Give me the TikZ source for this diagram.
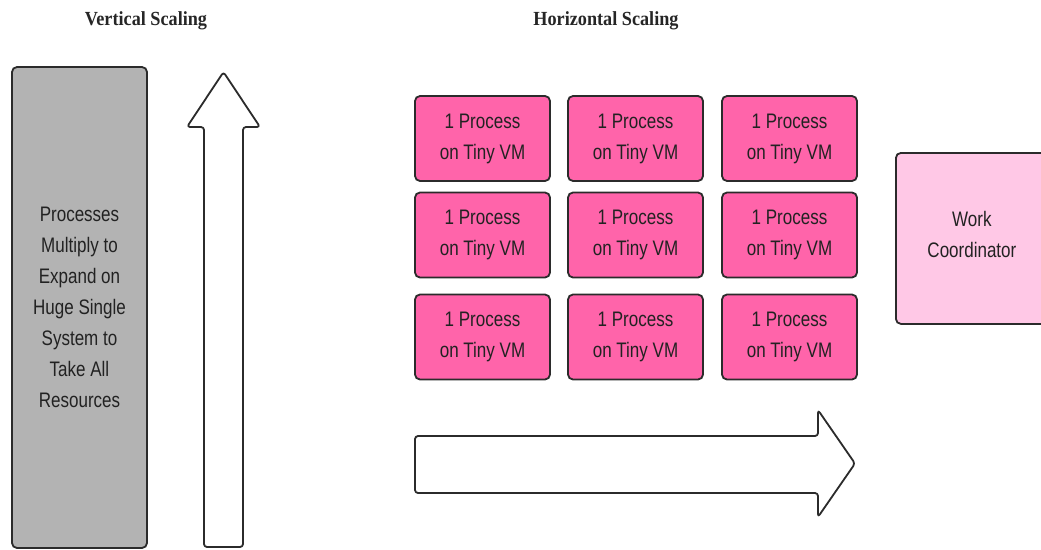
\documentclass[tikz,border=0pt]{standalone}
\usepackage{fontspec}
\setmainfont{Liberation Serif}
\newfontfamily\narrowsans[FakeStretch=0.81]{Liberation Sans}
\newfontfamily\titleserif[FakeStretch=0.91]{Liberation Serif}
\definecolor{edge}{HTML}{2B2B2B}
\definecolor{vmpink}{HTML}{FF64AA}
\definecolor{coordpink}{HTML}{FFC8E6}
\definecolor{sysgray}{HTML}{B3B3B3}
\definecolor{labeltext}{HTML}{222222}
\tikzset{
  boxbase/.style={draw=edge, line width=1.8pt, rounded corners=5pt, align=center,
    inner sep=0pt, text=labeltext, font=\narrowsans\fontsize{21}{31}\selectfont},
  vmbox/.style={boxbase, fill=vmpink, minimum width=135pt, minimum height=85pt},
  sysbox/.style={boxbase, fill=sysgray},
  coordbox/.style={boxbase, fill=coordpink},
  bigarrow/.style={draw=edge, line width=1.8pt, fill=white, rounded corners=3pt, line join=round},
  heading/.style={font=\titleserif\bfseries\fontsize{20}{22}\selectfont, text=black!85}
}
\begin{document}
\begin{tikzpicture}[x=1pt,y=-1pt]
  \clip (0,0) rectangle (1041,549);
  \fill[white] (0,0) rectangle (1041,549);

  % headings
  \node[heading] (vtitle) at (146,21) {Vertical Scaling};
  \node[heading] (htitle) at (606,21) {Horizontal Scaling};

  % vertical scaling: one large system
  \node[sysbox, minimum width=135pt, minimum height=481pt] (system) at (79.5,307.5)
    {Processes\\Multiply to\\Expand on\\Huge Single\\System to\\Take All\\Resources};

  % upward arrow
  \draw[bigarrow] (204,547) -- (204,127) -- (187,127) -- (223.5,72) -- (260,127)
    -- (243,127) -- (243,547) -- cycle;

  % horizontal scaling: grid of small VMs
  \foreach \c/\x in {1/482.5, 2/635.5, 3/789.5}{
    \foreach \r/\y in {1/138.5, 2/235, 3/337}{
      \node[vmbox] (vm\r\c) at (\x,\y) {1 Process\\on Tiny VM};
    }
  }

  % coordinator on the right
  \node[coordbox, minimum width=152pt, minimum height=171pt, anchor=north west] (coord) at (895,152) {};
  \node[font=\narrowsans\fontsize{21}{31}\selectfont, text=labeltext, align=center]
    (coordlabel) at ([yshift=4pt]coord.center) {Work\\Coordinator};

  % rightward arrow
  \draw[bigarrow] (415,436) -- (818,436) -- (818,410) -- (855,463.5) -- (818,517)
    -- (818,493) -- (415,493) -- cycle;
\end{tikzpicture}
\end{document}
